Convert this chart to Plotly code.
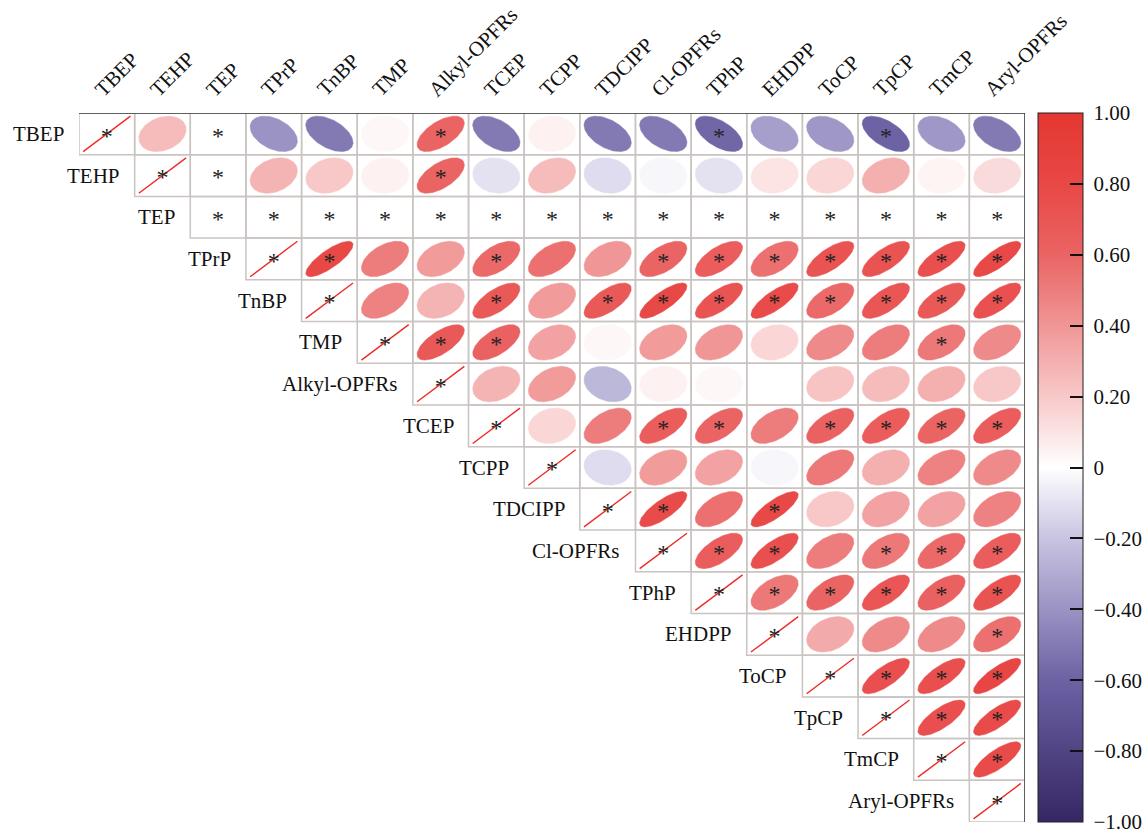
import numpy as np
import plotly.graph_objects as go

# ---------------- data ----------------
names = ["TBEP", "TEHP", "TEP", "TPrP", "TnBP", "TMP", "Alkyl-OPFRs", "TCEP", "TCPP",
         "TDCIPP", "Cl-OPFRs", "TPhP", "EHDPP", "ToCP", "TpCP", "TmCP", "Aryl-OPFRs"]

N = None
# upper-triangle correlations, row by row (starting at the diagonal); None = not available
r_TBEP = [1, 0.25, N, -0.40, -0.50, 0.03, 0.60, -0.50, 0.05, -0.50, -0.50, -0.58, -0.35, -0.38, -0.60, -0.38, -0.50]
r_TEHP = [1, N, 0.28, 0.20, 0.05, 0.60, -0.10, 0.25, -0.12, -0.03, -0.10, 0.10, 0.15, 0.30, 0.04, 0.13]
r_TEP = [N, N, N, N, N, N, N, N, N, N, N, N, N, N, N]
r_TPrP = [1, 0.80, 0.50, 0.38, 0.58, 0.55, 0.40, 0.60, 0.65, 0.55, 0.72, 0.72, 0.75, 0.80]
r_TnBP = [1, 0.48, 0.28, 0.68, 0.38, 0.68, 0.80, 0.72, 0.78, 0.58, 0.70, 0.68, 0.74]
r_TMP = [1, 0.68, 0.62, 0.35, 0.03, 0.38, 0.40, 0.15, 0.45, 0.50, 0.52, 0.45]
r_Alkyl = [1, 0.28, 0.38, -0.25, 0.05, 0.03, N, 0.22, 0.25, 0.30, 0.20]
r_TCEP = [1, 0.15, 0.50, 0.65, 0.60, 0.50, 0.62, 0.65, 0.60, 0.65]
r_TCPP = [1, -0.12, 0.38, 0.35, -0.03, 0.52, 0.30, 0.48, 0.45]
r_TDCIPP = [1, 0.78, 0.55, 0.80, 0.20, 0.35, 0.35, 0.48]
r_Cl = [1, 0.65, 0.75, 0.50, 0.52, 0.58, 0.65]
r_TPhP = [1, 0.52, 0.60, 0.70, 0.62, 0.72]
r_EHDPP = [1, 0.32, 0.45, 0.45, 0.55]
r_ToCP = [1, 0.75, 0.75, 0.82]
r_TpCP = [1, 0.75, 0.78]
r_TmCP = [1, 0.78]
r_Aryl = [1]

# significance marks (1 = "*"), same layout as above
s_TBEP = [1, 0, 1, 0, 0, 0, 1, 0, 0, 0, 0, 1, 0, 0, 1, 0, 0]
s_TEHP = [1, 1, 0, 0, 0, 1, 0, 0, 0, 0, 0, 0, 0, 0, 0, 0]
s_TEP = [1, 1, 1, 1, 1, 1, 1, 1, 1, 1, 1, 1, 1, 1, 1]
s_TPrP = [1, 1, 0, 0, 1, 0, 0, 1, 1, 1, 1, 1, 1, 1]
s_TnBP = [1, 0, 0, 1, 0, 1, 1, 1, 1, 1, 1, 1, 1]
s_TMP = [1, 1, 1, 0, 0, 0, 0, 0, 0, 0, 1, 0]
s_Alkyl = [1, 0, 0, 0, 0, 0, 0, 0, 0, 0, 0]
s_TCEP = [1, 0, 0, 1, 1, 0, 1, 1, 1, 1]
s_TCPP = [1, 0, 0, 0, 0, 0, 0, 0, 0]
s_TDCIPP = [1, 1, 0, 1, 0, 0, 0, 0]
s_Cl = [1, 1, 1, 0, 1, 1, 1]
s_TPhP = [1, 1, 1, 1, 1, 1]
s_EHDPP = [1, 0, 0, 0, 1]
s_ToCP = [1, 1, 1, 1]
s_TpCP = [1, 1, 1]
s_TmCP = [1, 1]
s_Aryl = [1]

r_rows = [r_TBEP, r_TEHP, r_TEP, r_TPrP, r_TnBP, r_TMP, r_Alkyl, r_TCEP, r_TCPP,
          r_TDCIPP, r_Cl, r_TPhP, r_EHDPP, r_ToCP, r_TpCP, r_TmCP, r_Aryl]
s_rows = [s_TBEP, s_TEHP, s_TEP, s_TPrP, s_TnBP, s_TMP, s_Alkyl, s_TCEP, s_TCPP,
          s_TDCIPP, s_Cl, s_TPhP, s_EHDPP, s_ToCP, s_TpCP, s_TmCP, s_Aryl]

cbar_vals = [-1.0, -0.8, -0.6, -0.4, -0.2, 0.0, 0.2, 0.4, 0.6, 0.8, 1.0]
cbar_text = ["\u22121.00", "\u22120.80", "\u22120.60", "\u22120.40", "\u22120.20", "0",
             "0.20", "0.40", "0.60", "0.80", "1.00"]

# ---------------- style ----------------
FONT = "Liberation Serif, Times New Roman, serif"
FS = 21
scale_pts = [(-1.0, (54, 38, 100)), (-0.6, (108, 98, 164)), (-0.2, (200, 196, 226)),
             (0.0, (255, 255, 255)), (0.2, (248, 200, 200)), (0.4, (240, 150, 150)),
             (0.6, (234, 100, 100)), (0.8, (232, 72, 70)), (1.0, (229, 55, 48))]
colorscale = [[(v + 1) / 2, "rgb(%d,%d,%d)" % c] for v, c in scale_pts]


def rcolor(r):
    vs = [p[0] for p in scale_pts]
    cs = np.array([p[1] for p in scale_pts], dtype=float)
    c = [np.interp(r, vs, cs[:, k]) for k in range(3)]
    return "rgb(%d,%d,%d)" % tuple(int(round(v)) for v in c)


n = len(names)
fig = go.Figure()

# grid lines (light)
gx, gy = [], []
for i in range(n):
    for j in range(i, n):
        gx += [j - 0.5, j + 0.5, j + 0.5, j - 0.5, j - 0.5, None]
        gy += [i - 0.5, i - 0.5, i + 0.5, i + 0.5, i - 0.5, None]
fig.add_trace(go.Scatter(x=gx, y=gy, mode="lines", line=dict(color="#c9c4c1", width=1.5),
                         hoverinfo="skip", showlegend=False))

# ellipses
k = np.linspace(0, 2 * np.pi, 99)
for i in range(n):
    for jj, r in enumerate(r_rows[i]):
        j = i + jj
        if r is None:
            continue
        if j == i:
            # diagonal: degenerate ellipse = line
            fig.add_trace(go.Scatter(x=[j - 0.425, j + 0.425], y=[i + 0.425, i - 0.425], mode="lines",
                                     line=dict(color="#ee2a24", width=1.4),
                                     hoverinfo="skip", showlegend=False))
            continue
        a = np.arccos(r) / 2
        ex = 0.85 * np.cos(k + a) / 2
        ey = 0.85 * np.cos(k - a) / 2
        col = rcolor(r)
        fig.add_trace(go.Scatter(x=j + ex, y=i - ey, mode="lines", fill="toself",
                                 fillcolor=col, line=dict(color=col, width=0.5),
                                 hoverinfo="skip", showlegend=False))

# outer frame (top and right)
fig.add_trace(go.Scatter(x=[-0.5, n - 0.5, n - 0.5], y=[-0.5, -0.5, n - 0.5], mode="lines",
                         line=dict(color="#3a3a3a", width=1.5), hoverinfo="skip", showlegend=False))

# asterisks
ax_, ay_ = [], []
for i in range(n):
    for jj, s in enumerate(s_rows[i]):
        if s:
            ax_.append(i + jj)
            ay_.append(i + 0.09)
fig.add_trace(go.Scatter(x=ax_, y=ay_, mode="text", text=["*"] * len(ax_),
                         textfont=dict(family=FONT, size=24, color="#222222"),
                         hoverinfo="skip", showlegend=False))

# colorbar
NB = "\u00a0"
fig.add_trace(go.Scatter(x=[None], y=[None], mode="markers", showlegend=False,
                         marker=dict(color=[0], cmin=-1, cmax=1, colorscale=colorscale, showscale=True,
                                     colorbar=dict(x=1.0141, xanchor="left", xpad=0, ypad=0,
                                                   y=0.5, yanchor="middle", lenmode="pixels", len=709,
                                                   thickness=45, outlinewidth=1, outlinecolor="#222",
                                                   tickvals=cbar_vals, ticktext=[NB + t for t in cbar_text],
                                                   ticks="inside", ticklen=13, tickwidth=1.5,
                                                   tickcolor="#111", ticklabeloverflow="allow",
                                                   tickfont=dict(family=FONT, size=FS, color="#111")))))

ann = []
for j, name in enumerate(names):
    ann.append(dict(x=j, y=-0.5, xref="x", yref="y", text=name, showarrow=False, textangle=-45,
                    xanchor="left", yanchor="bottom", xshift=-20, yshift=9,
                    font=dict(family=FONT, size=FS, color="#111")))
for i, name in enumerate(names):
    ann.append(dict(x=i - 0.5, y=i, xref="x", yref="y", text=name, showarrow=False,
                    xanchor="right", yanchor="middle", xshift=-13,
                    font=dict(family=FONT, size=FS, color="#111")))

fig.update_layout(width=1147, height=831,
                  margin=dict(l=79, r=122, t=113, b=9, autoexpand=False),
                  paper_bgcolor="white", plot_bgcolor="white", annotations=ann,
                  xaxis=dict(range=[-0.5, n - 0.5], visible=False, fixedrange=True),
                  yaxis=dict(range=[n - 0.5, -0.5], visible=False, fixedrange=True),
                  font=dict(family=FONT))

fig.write_html("out.html", config={"displayModeBar": False},
               post_script="document.body.style.margin='0';document.body.style.overflow='hidden';")
